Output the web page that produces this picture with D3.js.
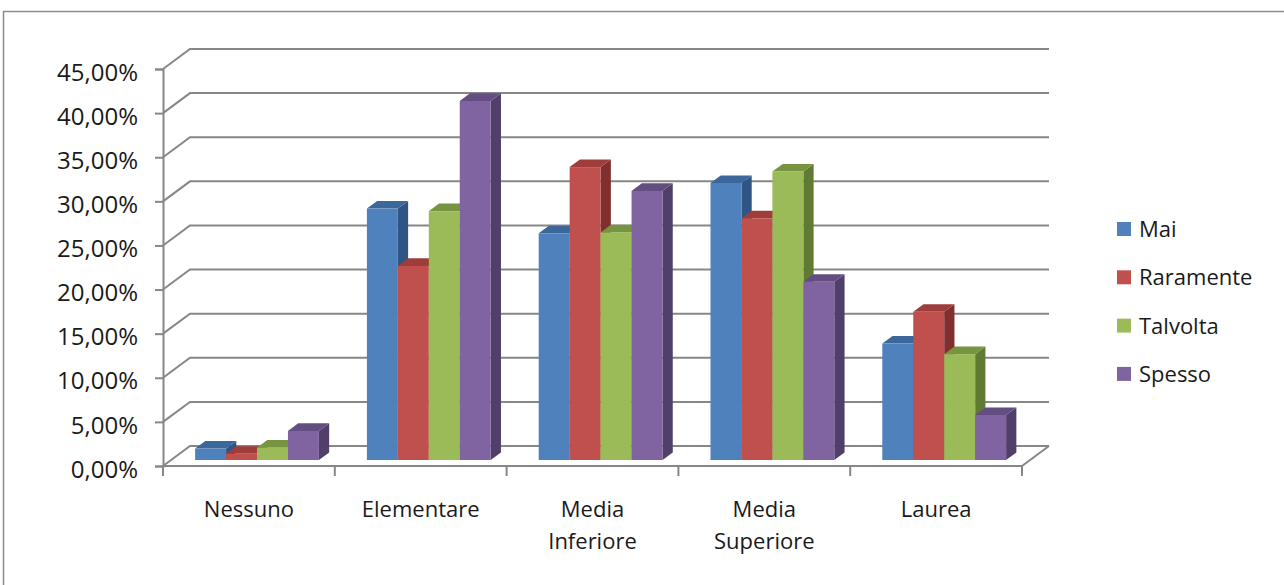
<!DOCTYPE html>
<html>
<head>
<meta charset="utf-8">
<script src="https://cdn.jsdelivr.net/npm/d3@7"></script>
<style>
  html, body { margin: 0; padding: 0; background: #fff; }
  svg { display: block; }
  text { font-family: "Open Sans", "Noto Sans", sans-serif; fill: #1a1a1a; }
</style>
</head>
<body>
<svg id="chart" width="1284" height="585"></svg>
<script>
// Level of education (categories) and answer frequency (series), values in percent
const categories = ["Nessuno", "Elementare", "Media Inferiore", "Media Superiore", "Laurea"];
const seriesNames = ["Mai", "Raramente", "Talvolta", "Spesso"];
const mai       = [1.3, 28.5, 25.7, 31.4, 13.2];
const raramente = [0.7, 22.0, 33.2, 27.4, 16.8];
const talvolta  = [1.4, 28.2, 25.8, 32.7, 12.0];
const spesso    = [3.3, 40.7, 30.5, 20.2, 5.1];
const yTicks    = [0, 5, 10, 15, 20, 25, 30, 35, 40, 45];

const seriesValues = [mai, raramente, talvolta, spesso];

// face colours: front, top, side
const palette = [
  { front: "#4f81bd", top: "#3c679b", side: "#2e5583" },
  { front: "#c0504d", top: "#9e3d3a", side: "#7f2f2d" },
  { front: "#9bbb59", top: "#779441", side: "#617a33" },
  { front: "#8064a2", top: "#634d82", side: "#503f69" }
];

const svg = d3.select("#chart");
const W = 1284, H = 585;

// plot frame (front plane)
const plotLeft = 163, plotRight = 1022, plotBottom = 466, plotTop = 69;
// depth vector of the 3D box
const depthX = 27, depthY = -20;
const off = t => [depthX * t, depthY * t];
const barFront = 0.3, barBack = 0.68;

const y = d3.scaleLinear().domain([0, 45]).range([plotBottom, plotTop]);
const x = d3.scaleBand().domain(categories).range([plotLeft, plotRight]).padding(0);
const xs = d3.scaleBand().domain(seriesNames)
  .range([24, x.bandwidth() - 24]).padding(0);

const itLocale = d3.formatLocale({ decimal: ",", thousands: ".", grouping: [3], currency: ["€", ""] });
const fmt = itLocale.format(".2f");

const grid = "#878787";

// outer chart border
svg.append("path")
  .attr("d", `M3.5,${H} V11.5 H${W}`)
  .attr("fill", "none").attr("stroke", "#8c8c8c").attr("stroke-width", 1.5);

// back wall gridlines and left wall diagonals
const gridG = svg.append("g").attr("fill", "none").attr("stroke", grid).attr("stroke-width", 2);
yTicks.forEach(v => {
  const yv = y(v);
  gridG.append("path")
    .attr("d", `M${plotLeft},${yv} L${plotLeft + depthX},${yv + depthY} L${plotRight + depthX},${yv + depthY}`);
});

// floor: right edge
gridG.append("path")
  .attr("d", `M${plotRight},${y(0)} L${plotRight + depthX},${y(0) + depthY}`);

// bars, drawn left to right so nearer faces overlap
const barsG = svg.append("g");
categories.forEach((c, ci) => {
  seriesNames.forEach((s, si) => {
    const v = seriesValues[si][ci];
    const [fx, fy] = off(barFront);
    const [bx, by] = off(barBack);
    const x0 = x(c) + xs(s) + fx;
    const x1 = x0 + xs.bandwidth();
    const yb = y(0) + fy;
    const yt = y(v) + fy;
    const dx = bx - fx, dy = by - fy;
    const col = palette[si];
    const g = barsG.append("g");
    // side face
    g.append("path")
      .attr("d", `M${x1},${yb} L${x1 + dx},${yb + dy} L${x1 + dx},${yt + dy} L${x1},${yt} Z`)
      .attr("fill", col.side);
    // top face
    g.append("path")
      .attr("d", `M${x0},${yt} L${x0 + dx},${yt + dy} L${x1 + dx},${yt + dy} L${x1},${yt} Z`)
      .attr("fill", col.top);
    // front face
    g.append("rect")
      .attr("x", x0).attr("y", yt)
      .attr("width", x1 - x0).attr("height", yb - yt)
      .attr("fill", col.front);
  });
});

// front value axis
const yAxis = d3.axisLeft(y).tickValues(yTicks).tickSize(8).tickPadding(0)
  .tickFormat(d => fmt(d) + "%");
const yAxisG = svg.append("g").attr("transform", `translate(${plotLeft},0)`).call(yAxis);
yAxisG.select(".domain").attr("stroke", grid).attr("stroke-width", 2);
yAxisG.selectAll(".tick line").attr("stroke", grid).attr("stroke-width", 2);
yAxisG.selectAll(".tick text")
  .attr("x", -25).attr("dy", "0.38em").attr("transform", "translate(0,2)")
  .style("font-size", "24px").style("font-family", "'Open Sans', sans-serif").attr("fill", "#1a1a1a");

// category axis (floor front edge)
const xAxisG = svg.append("g");
xAxisG.append("line")
  .attr("x1", plotLeft).attr("x2", plotRight).attr("y1", y(0)).attr("y2", y(0))
  .attr("stroke", grid).attr("stroke-width", 2);
const boundaries = categories.map(c => x(c)).concat([plotRight]);
xAxisG.selectAll("line.tick").data(boundaries).join("line")
  .attr("class", "tick")
  .attr("x1", d => d).attr("x2", d => d)
  .attr("y1", y(0)).attr("y2", y(0) + 10)
  .attr("stroke", grid).attr("stroke-width", 2);

xAxisG.selectAll("text").data(categories).join("text")
  .attr("text-anchor", "middle")
  .style("font-size", "22px")
  .each(function (c) {
    const words = c.split(" ");
    const t = d3.select(this);
    words.forEach((w, i) => {
      t.append("tspan")
        .attr("x", x(c) + x.bandwidth() / 2)
        .attr("y", 517 + i * 32)
        .text(w);
    });
  });

// legend
const legend = svg.append("g");
seriesNames.forEach((s, i) => {
  const cy = 229 + i * 48.3;
  legend.append("rect")
    .attr("x", 1117).attr("y", cy - 7)
    .attr("width", 14).attr("height", 14)
    .attr("fill", palette[i].front);
  legend.append("text")
    .attr("x", 1139).attr("y", cy + 8)
    .style("font-size", "22px")
    .text(s);
});
</script>
</body>
</html>
